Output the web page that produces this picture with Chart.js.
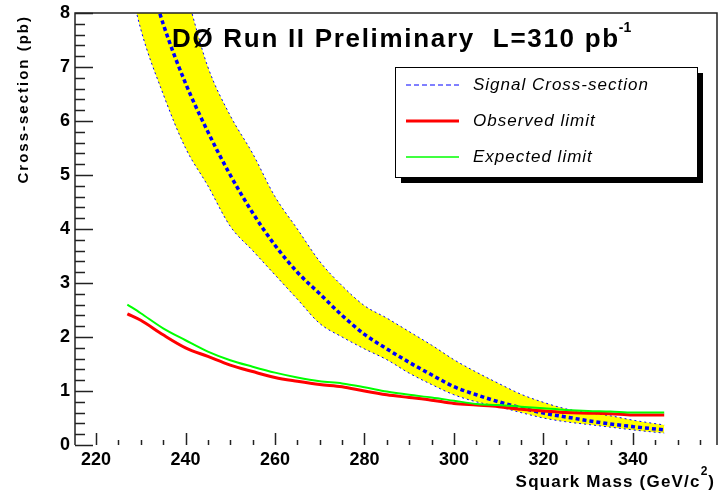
<!DOCTYPE html>
<html>
<head>
<meta charset="utf-8">
<script src="https://cdn.jsdelivr.net/npm/chart.js@4/dist/chart.umd.min.js"></script>
<style>
  html, body { margin: 0; padding: 0; background: #fff; }
  #wrap { width: 719px; height: 494px; }
</style>
</head>
<body>
<div id="wrap"><canvas id="limitChart"></canvas></div>
<script>
// --- Data ---
// Squark mass (GeV/c^2) for the limit curves
const limitMass = [227, 230, 235, 240, 245, 250, 255, 260, 265, 270, 275, 280, 285,
                   290, 295, 300, 305, 310, 315, 320, 325, 330, 335, 340, 347];
const observedLimit = [2.43, 2.31, 2.04, 1.80, 1.64, 1.48, 1.36, 1.25, 1.18, 1.12, 1.08, 1.00, 0.93,
                       0.88, 0.83, 0.77, 0.74, 0.71, 0.66, 0.63, 0.60, 0.59, 0.58, 0.555, 0.555];
const expectedLimit = [2.60, 2.44, 2.16, 1.94, 1.73, 1.57, 1.45, 1.34, 1.25, 1.18, 1.14, 1.07, 0.99,
                       0.93, 0.88, 0.82, 0.76, 0.74, 0.71, 0.68, 0.65, 0.63, 0.62, 0.60, 0.60];

// Signal cross-section and its uncertainty band
const signalMass = [225, 230, 235, 240, 245, 250, 255, 260, 265, 270, 275, 280, 285,
                    290, 295, 300, 305, 310, 315, 320, 325, 330, 335, 340, 347];
const signalXsec = [10.6, 9.2, 7.8, 6.7, 5.8, 5.0, 4.3, 3.7, 3.2, 2.8, 2.4, 2.05, 1.78,
                    1.53, 1.30, 1.08, 0.93, 0.80, 0.69, 0.59, 0.52, 0.45, 0.39, 0.34, 0.28];
const signalUpper = [12.5, 11.0, 9.6, 8.4, 7.0, 6.1, 5.4, 4.6, 4.0, 3.4, 2.95, 2.58, 2.35,
                     2.10, 1.85, 1.58, 1.35, 1.14, 0.94, 0.79, 0.67, 0.60, 0.54, 0.46, 0.37];
const signalLower = [9.5, 7.7, 6.5, 5.5, 4.8, 4.05, 3.6, 3.15, 2.7, 2.25, 2.0, 1.78, 1.58,
                     1.33, 1.12, 0.93, 0.80, 0.71, 0.60, 0.50, 0.43, 0.38, 0.33, 0.28, 0.22];

// Axis tick labels
const massTicks = [220, 240, 260, 280, 300, 320, 340];
const xsecTicks = [0, 1, 2, 3, 4, 5, 6, 7, 8];

// Legend entries, in the order shown in the box
const legendOrder = ['Signal Cross-section', 'Observed limit', 'Expected limit'];

const toPoints = (xs, ys) => xs.map((x, i) => ({ x: x, y: ys[i] }));

const FONT = '"Liberation Sans", Arial, sans-serif';

// Frame, inward ticks, titles and boxed legend (ROOT style)
const rootDecor = {
    id: 'rootDecor',
    afterDraw(chart) {
        const ctx = chart.ctx;
        const { left, right, top, bottom } = chart.chartArea;
        const xs = chart.scales.x;
        const ys = chart.scales.y;
        ctx.save();

        // frame (no bottom line in the original)
        ctx.strokeStyle = '#222';
        ctx.lineWidth = 1.5;
        ctx.beginPath();
        ctx.moveTo(left, bottom);
        ctx.lineTo(left, top);
        ctx.lineTo(right, top);
        ctx.lineTo(right, bottom);
        ctx.stroke();

        // ticks pointing into the pad
        ctx.beginPath();
        for (let i = 0; i <= 40; i++) {
            const y = Math.round(ys.getPixelForValue(i / 5)) + 0.5;
            const len = i % 5 === 0 ? 18 : 10;
            ctx.moveTo(left, y);
            ctx.lineTo(left + len, y);
        }
        for (let m = 220; m <= 355; m += 5) {
            const x = Math.round(xs.getPixelForValue(m)) + 0.5;
            const len = m % 20 === 0 ? 12 : 5;
            ctx.moveTo(x, bottom);
            ctx.lineTo(x, bottom - len);
        }
        ctx.stroke();

        // plot title
        ctx.fillStyle = '#000';
        ctx.textAlign = 'left';
        ctx.textBaseline = 'alphabetic';
        ctx.font = 'bold 26px ' + FONT;
        ctx.letterSpacing = '1.7px';
        const title = 'D\u00D8 Run II Preliminary  L=310 pb';
        ctx.fillText(title, 172, 47);
        const tw = ctx.measureText(title).width;
        ctx.font = 'bold 14px ' + FONT;
        ctx.letterSpacing = '0px';
        ctx.fillText('-1', 172 + tw - 1, 32);

        // y axis title, right aligned to the top
        ctx.save();
        ctx.translate(28, 15);
        ctx.rotate(-Math.PI / 2);
        ctx.textAlign = 'right';
        ctx.font = 'bold 15px ' + FONT;
        ctx.letterSpacing = '2px';
        ctx.fillText('Cross-section (pb)', 0, 0);
        ctx.restore();

        // x axis title with superscript
        ctx.font = 'bold 17px ' + FONT;
        ctx.letterSpacing = '1.2px';
        const p1 = 'Squark Mass (GeV/c';
        const w1 = ctx.measureText(p1).width;
        ctx.letterSpacing = '0px';
        const w3 = ctx.measureText(')').width;
        ctx.font = 'bold 12px ' + FONT;
        const w2 = ctx.measureText('2').width;
        const xt = 714 - (w1 + w2 + 1 + w3);
        ctx.font = 'bold 17px ' + FONT;
        ctx.letterSpacing = '1.2px';
        ctx.fillText(p1, xt, 487);
        ctx.letterSpacing = '0px';
        ctx.font = 'bold 12px ' + FONT;
        ctx.fillText('2', xt + w1, 475);
        ctx.font = 'bold 17px ' + FONT;
        ctx.fillText(')', xt + w1 + w2 + 1, 487);

        // legend box with shadow
        const bx = 395, by = 67, bw = 302, bh = 110;
        ctx.fillStyle = '#000';
        ctx.fillRect(bx + 6, by + 6, bw, bh);
        ctx.fillStyle = '#fff';
        ctx.fillRect(bx, by, bw, bh);
        ctx.strokeStyle = '#000';
        ctx.lineWidth = 1;
        ctx.strokeRect(bx + 0.5, by + 0.5, bw, bh);

        ctx.font = 'italic 17px ' + FONT;
        ctx.letterSpacing = '1px';
        ctx.textBaseline = 'middle';
        legendOrder.forEach((name, row) => {
            const ds = chart.data.datasets.find(d => d.label === name);
            const y = 85 + row * 36;
            ctx.strokeStyle = ds.borderColor;
            ctx.lineWidth = ds.legendStyle.width;
            ctx.setLineDash(ds.legendStyle.dash);
            ctx.beginPath();
            ctx.moveTo(406, y);
            ctx.lineTo(459, y);
            ctx.stroke();
            ctx.setLineDash([]);
            ctx.fillStyle = '#000';
            ctx.fillText(ds.label, 473, y);
        });
        ctx.restore();
    }
};

// first dataset is drawn on top
const datasets = [
    {
        label: 'Expected limit',
        data: toPoints(limitMass, expectedLimit),
        borderColor: '#00ff00',
        borderWidth: 2,
        legendStyle: { width: 1.5, dash: [] }
    },
    {
        label: 'Observed limit',
        data: toPoints(limitMass, observedLimit),
        borderColor: '#ff0000',
        borderWidth: 3,
        legendStyle: { width: 3, dash: [] }
    },
    {
        label: 'Signal Cross-section',
        data: toPoints(signalMass, signalXsec),
        borderColor: '#0000ff',
        borderWidth: 3.5,
        borderDash: [4, 3],
        legendStyle: { width: 1, dash: [5, 3] }
    },
    {
        label: 'Signal lower',
        data: toPoints(signalMass, signalLower),
        borderColor: '#0000ff',
        borderWidth: 1,
        borderDash: [2, 3]
    },
    {
        label: 'Signal upper',
        data: toPoints(signalMass, signalUpper),
        borderColor: '#0000ff',
        backgroundColor: '#ffff00',
        borderWidth: 1,
        borderDash: [2, 3],
        fill: '-1'
    }
];

const chart = new Chart(document.getElementById('limitChart'), {
    type: 'line',
    data: { datasets: datasets },
    options: {
        responsive: true,
        maintainAspectRatio: false,
        animation: false,
        layout: { padding: { top: 13, right: 2, left: 0, bottom: 0 } },
        elements: {
            point: { radius: 0 },
            line: { cubicInterpolationMode: 'monotone', fill: false }
        },
        plugins: {
            legend: { display: false },
            tooltip: { enabled: false },
            filler: { drawTime: 'beforeDatasetsDraw' }
        },
        scales: {
            x: {
                type: 'linear',
                min: 215.3,
                max: 358.8,
                afterBuildTicks: s => { s.ticks = massTicks.map(v => ({ value: v })); },
                afterFit: s => { s.height = 49; s.paddingLeft = 0; s.paddingRight = 0; },
                grid: { display: false, drawTicks: false },
                border: { display: false },
                ticks: {
                    padding: 4,
                    color: '#000',
                    autoSkip: false,
                    maxRotation: 0,
                    font: { family: FONT, size: 18, weight: 'bold' }
                }
            },
            y: {
                min: 0,
                max: 8,
                afterBuildTicks: s => { s.ticks = xsecTicks.map(v => ({ value: v })); },
                afterFit: s => { s.width = 75; s.paddingTop = 0; s.paddingBottom = 0; },
                grid: { display: false, drawTicks: false },
                border: { display: false },
                ticks: {
                    padding: 5,
                    color: '#000',
                    font: { family: FONT, size: 18, weight: 'bold' }
                }
            }
        }
    },
    plugins: [rootDecor]
});
</script>
</body>
</html>
